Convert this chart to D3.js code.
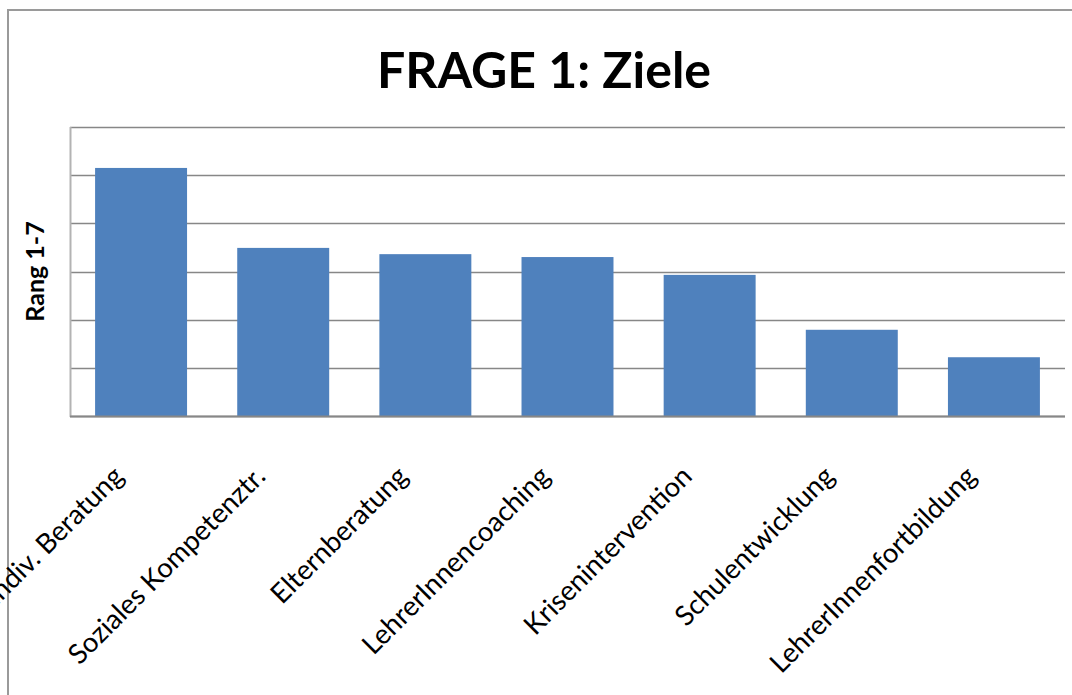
<!DOCTYPE html>
<html lang="de">
<head>
  <meta charset="UTF-8">
  <title>FRAGE 1: Ziele</title>
  <style>
    body { margin: 0; background: #fff; }
    svg { display: block; }
    .grid line { stroke: #878787; stroke-width: 1.5px; }
    .xlabel { font: 27.5px Lato, sans-serif; fill: #000; }
  </style>
</head>
<body>
  <svg width="1072" height="695"></svg>

  <script src="https://cdn.jsdelivr.net/npm/d3@7"></script>
  <script>
    const categories = ["Indiv. Beratung", "Soziales Kompetenztr.", "Elternberatung",
      "LehrerInnencoaching", "Krisenintervention", "Schulentwicklung", "LehrerInnenfortbildung"];
    const values = [5.15, 3.49, 3.36, 3.30, 2.93, 1.79, 1.22];
    const yTicks = [0, 1, 2, 3, 4, 5, 6];

    const svg = d3.select("svg");
    const plot = { left: 70, right: 1065, top: 127, bottom: 416 };

    // outer chart frame (runs off the right/bottom of the picture)
    svg.append("path")
      .attr("d", "M8,700 L8,10 L1080,10")
      .attr("fill", "none")
      .attr("stroke", "#9a9a9a")
      .attr("stroke-width", 2);

    const x = d3.scaleBand()
      .domain(categories)
      .range([plot.left, plot.right])
      .paddingInner(0.353)
      .paddingOuter(0.1765);

    const y = d3.scaleLinear()
      .domain([0, 6])
      .range([plot.bottom, plot.top]);

    // gridlines
    svg.append("g")
      .attr("class", "grid")
      .selectAll("line")
      .data(yTicks)
      .enter().append("line")
      .attr("x1", plot.left)
      .attr("x2", plot.right)
      .attr("y1", d => Math.round(y(d)) + 0.5)
      .attr("y2", d => Math.round(y(d)) + 0.5);

    // left axis line
    svg.append("line")
      .attr("x1", plot.left + 0.5).attr("x2", plot.left + 0.5)
      .attr("y1", plot.top).attr("y2", plot.bottom + 1)
      .attr("stroke", "#b3b3b3")
      .attr("stroke-width", 2);

    // bars
    svg.append("g")
      .selectAll("rect")
      .data(values)
      .enter().append("rect")
      .attr("x", (d, i) => x(categories[i]))
      .attr("width", x.bandwidth())
      .attr("y", d => y(d))
      .attr("height", d => y(0) - y(d))
      .attr("fill", "#4F81BD");

    // baseline drawn over the bars
    svg.append("line")
      .attr("x1", plot.left).attr("x2", plot.right)
      .attr("y1", plot.bottom + 0.5).attr("y2", plot.bottom + 0.5)
      .attr("stroke", "#878787")
      .attr("stroke-width", 2);

    // category labels, rotated (first one runs off the left edge as in the original)
    svg.append("g")
      .selectAll("text")
      .data(categories)
      .enter().append("text")
      .attr("class", "xlabel")
      .attr("text-anchor", "end")
      .attr("transform", d => `translate(${x(d) + x.bandwidth() / 2 - 16},${plot.bottom + 62}) rotate(-45)`)
      .text(d => d);

    // title
    svg.append("text")
      .attr("x", 544)
      .attr("y", 88)
      .attr("text-anchor", "middle")
      .style("font", "bold 50px Lato, sans-serif")
      .text("FRAGE 1: Ziele");

    // y axis title
    svg.append("text")
      .attr("transform", `translate(44,${(plot.top + plot.bottom) / 2}) rotate(-90)`)
      .attr("text-anchor", "middle")
      .style("font", "bold 25px Lato, sans-serif")
      .text("Rang 1-7");
  </script>
</body>
</html>
